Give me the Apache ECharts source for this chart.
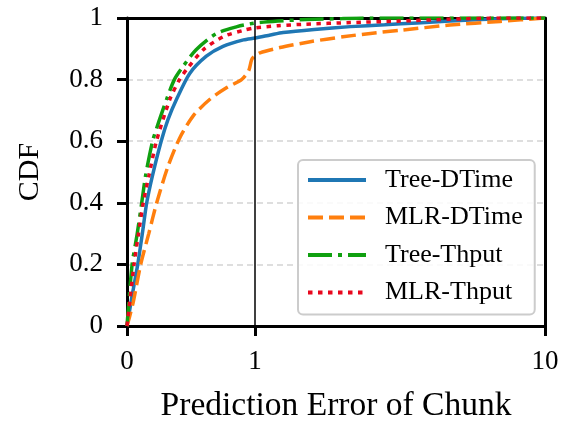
<!DOCTYPE html>
<html>
<head>
    <meta charset="utf-8">
    <title>CDF of prediction error</title>
    <script src="https://cdn.jsdelivr.net/npm/echarts@6/dist/echarts.min.js"></script>
    <style>
        html, body { margin: 0; padding: 0; background: #fff; }
        #main { width: 562px; height: 428px; }
    </style>
</head>
<body>
<div id="main"></div>
<script type="text/javascript">
    // x 轴刻度 (0~1 线性, 1~10 对数)
    var xTicks = [0, 1, 10];
    var names = ['Tree-DTime', 'MLR-DTime', 'Tree-Thput', 'MLR-Thput'];

    var treeDTimeX = [0, 0.02, 0.045, 0.084, 0.12, 0.154, 0.2, 0.267, 0.32, 0.388, 0.49, 0.62, 0.75, 0.91, 1, 1.13, 1.25, 1.6, 2.13, 2.8, 3.62, 4.7, 6, 7.5, 10];
    var treeDTimeY = [0, 0.05, 0.11, 0.2, 0.3, 0.4, 0.49, 0.6, 0.67, 0.737, 0.82, 0.876, 0.908, 0.929, 0.935, 0.945, 0.953, 0.963, 0.972, 0.978, 0.984, 0.99, 0.995, 0.998, 1];

    var mlrDTimeX = [0, 0.02, 0.05, 0.107, 0.17, 0.232, 0.316, 0.41, 0.52, 0.65, 0.78, 0.895, 0.95, 0.974, 1, 1.04, 1.22, 1.55, 2.01, 2.5, 3.16, 4.7, 7, 10];
    var mlrDTimeY = [0, 0.03, 0.08, 0.2, 0.3, 0.4, 0.513, 0.609, 0.684, 0.737, 0.774, 0.8, 0.828, 0.865, 0.878, 0.887, 0.904, 0.923, 0.939, 0.95, 0.96, 0.977, 0.989, 1];

    var treeThputX = [0, 0.04, 0.08, 0.115, 0.146, 0.2, 0.25, 0.31, 0.37, 0.44, 0.54, 0.7, 0.86, 0.99, 1.2, 1.5, 2, 2.5, 10];
    var treeThputY = [0, 0.2, 0.3, 0.4, 0.49, 0.6, 0.665, 0.737, 0.8, 0.844, 0.897, 0.95, 0.972, 0.983, 0.99, 0.995, 0.998, 1, 1];

    var mlrThputX = [0, 0.055, 0.09, 0.127, 0.172, 0.23, 0.336, 0.41, 0.466, 0.596, 0.755, 0.91, 1, 1.2, 1.5, 2.13, 3.16, 4.7, 7, 10];
    var mlrThputY = [0, 0.2, 0.3, 0.4, 0.49, 0.6, 0.737, 0.8, 0.833, 0.897, 0.94, 0.96, 0.968, 0.975, 0.98, 0.985, 0.99, 0.996, 1, 1];

    // symlog 变换: 1 以下线性, 1 以上按 log10 拉伸
    var LOG_SCALE = 290 / 128;
    function tx(v) {
        return v <= 1 ? v : 1 + LOG_SCALE * Math.log10(v);
    }
    function pairs(xs, ys) {
        return xs.map(function (x, i) { return [tx(x), ys[i]]; });
    }

    var tickPos = xTicks.map(tx);
    var serifFont = '"Liberation Serif", "DejaVu Serif", serif';
    var spine = { show: true, onZero: false, lineStyle: { color: '#000', width: 3 } };

    var myChart = echarts.init(document.getElementById('main'));

    function lineSeries(name, xs, ys, color, type) {
        return {
            name: name,
            type: 'line',
            symbol: 'none',
            smooth: 0.25,
            data: pairs(xs, ys),
            lineStyle: { color: color, width: 3.5, type: type },
            itemStyle: { color: color }
        };
    }

    var series = [
        lineSeries(names[0], treeDTimeX, treeDTimeY, '#1f77b4', 'solid'),
        lineSeries(names[1], mlrDTimeX, mlrDTimeY, '#ff7f0e', [15, 6]),
        lineSeries(names[2], treeThputX, treeThputY, '#10a010', [24, 6, 4, 6]),
        lineSeries(names[3], mlrThputX, mlrThputY, '#e8081e', [4.5, 5.5])
    ];
    // x = 1 处的竖线
    series[0].markLine = {
        silent: true,
        symbol: 'none',
        label: { show: false },
        lineStyle: { color: '#000', width: 1.5, type: 'solid' },
        data: [{ xAxis: tx(1) }]
    };

    var option = {
        backgroundColor: '#fff',
        animation: false,
        grid: {
            left: 127,
            right: 17,
            top: 18,
            bottom: 98
        },
        legend: {
            data: names,
            orient: 'vertical',
            left: 298,
            top: 160,
            padding: [7, 12, 9, 8],
            itemWidth: 58,
            itemHeight: 14,
            itemGap: 11.5,
            backgroundColor: 'rgba(255,255,255,0.85)',
            borderColor: '#cccccc',
            borderWidth: 2,
            borderRadius: 5,
            itemStyle: { opacity: 0, borderWidth: 0 },
            lineStyle: { width: 4 },
            textStyle: {
                fontFamily: serifFont,
                fontSize: 26,
                lineHeight: 26,
                color: '#000',
                padding: [0, 0, 0, 14]
            }
        },
        xAxis: [
            {
                type: 'value',
                min: 0,
                max: tickPos[2],
                name: 'Prediction Error of Chunk',
                nameLocation: 'middle',
                nameGap: 63,
                nameTextStyle: { fontFamily: serifFont, fontSize: 33.5, color: '#000' },
                axisLine: spine,
                axisTick: { show: true, inside: false, length: 10, lineStyle: { color: '#000', width: 3 }, customValues: tickPos },
                axisLabel: {
                    margin: 22,
                    fontFamily: serifFont,
                    fontSize: 27,
                    color: '#000',
                    customValues: tickPos,
                    formatter: function (v) {
                        var i = tickPos.findIndex(function (p) { return Math.abs(p - v) < 1e-6; });
                        return i >= 0 ? String(xTicks[i]) : '';
                    }
                },
                splitLine: { show: false }
            },
            {
                type: 'value',
                position: 'top',
                min: 0,
                max: tickPos[2],
                axisLine: spine,
                axisTick: { show: false },
                axisLabel: { show: false },
                splitLine: { show: false }
            }
        ],
        yAxis: [
            {
                type: 'value',
                min: 0,
                max: 1,
                interval: 0.2,
                name: 'CDF',
                nameLocation: 'middle',
                nameGap: 82,
                nameTextStyle: { fontFamily: serifFont, fontSize: 30, color: '#000' },
                axisLine: spine,
                axisTick: { show: true, inside: false, length: 10, lineStyle: { color: '#000', width: 3 } },
                axisLabel: {
                    margin: 24,
                    fontFamily: serifFont,
                    fontSize: 27,
                    color: '#000',
                    formatter: function (v) { return String(Math.round(v * 10) / 10); }
                },
                splitLine: { show: true, lineStyle: { color: '#d3d3d3', width: 1.5, type: [6, 4] } }
            },
            {
                type: 'value',
                position: 'right',
                min: 0,
                max: 1,
                axisLine: spine,
                axisTick: { show: false },
                axisLabel: { show: false },
                splitLine: { show: false }
            }
        ],
        series: series
    };

    myChart.setOption(option);
</script>
</body>
</html>
